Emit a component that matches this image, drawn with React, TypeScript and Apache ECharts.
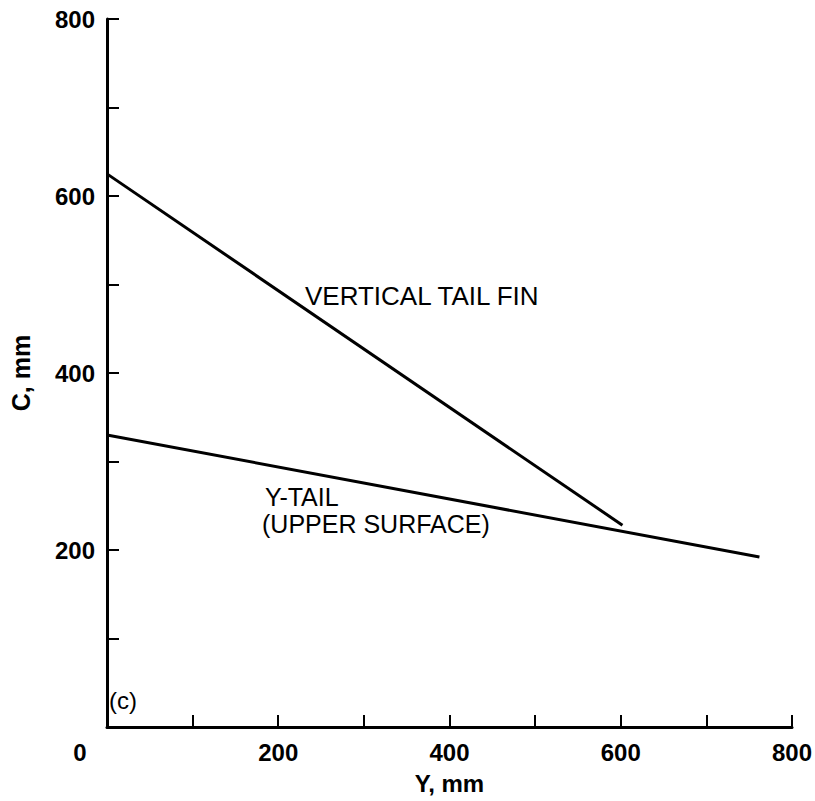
import React, { useEffect, useRef } from "react";
import * as echarts from "echarts";

const xTicks = [0, 100, 200, 300, 400, 500, 600, 700, 800];
const yTicks = [0, 100, 200, 300, 400, 500, 600, 700, 800];
const verticalTailFin: [number, number][] = [
  [0, 625],
  [602, 228],
];
const yTail: [number, number][] = [
  [0, 330],
  [762, 192],
];
const labelVTF = "VERTICAL TAIL FIN";
const labelYTail = "Y-TAIL";
const labelUpper = "(UPPER SURFACE)";
const labelPanel = "(c)";
const xName = "Y, mm";
const yName = "C, mm";

const FONT = "'Liberation Sans', Arial, Helvetica, sans-serif";

export default function App() {
  const ref = useRef<HTMLDivElement>(null);
  useEffect(() => {
    if (!ref.current) return;
    const chart = echarts.init(ref.current, null, { renderer: "svg" });
    const axisCommon = {
      type: "value" as const,
      interval: 100,
      splitLine: { show: false },
      axisLine: { show: true, lineStyle: { color: "#000", width: 3 } },
      axisTick: { show: true, inside: true, length: 12, lineStyle: { color: "#000", width: 2 } },
    };
    chart.setOption({
      animation: false,
      backgroundColor: "#fff",
      grid: { left: 99, right: 13, top: 19, bottom: 74, containLabel: false },
      xAxis: {
        ...axisCommon,
        min: xTicks[0],
        max: xTicks[xTicks.length - 1],
        name: xName,
        nameLocation: "middle",
        nameGap: 44,
        nameTextStyle: { color: "#000", fontSize: 24, fontWeight: "bold", fontFamily: FONT },
        axisLabel: {
          showMinLabel: true,
          showMaxLabel: true,
          margin: 13,
          color: "#000",
          fontSize: 24,
          fontWeight: "bold",
          fontFamily: FONT,
          formatter: (v: number) => (v === 0 ? "{z|0}" : v % 200 === 0 ? String(v) : ""),
          rich: {
            z: { color: "#000", fontSize: 24, fontWeight: "bold", fontFamily: FONT, padding: [0, 54, 0, 0] },
          },
        },
      },
      yAxis: {
        ...axisCommon,
        min: yTicks[0],
        max: yTicks[yTicks.length - 1],
        name: yName,
        nameLocation: "middle",
        nameGap: 74,
        nameRotate: 90,
        nameTextStyle: { color: "#000", fontSize: 25, fontWeight: "bold", fontFamily: FONT },
        axisLabel: {
          showMaxLabel: true,
          margin: 12,
          color: "#000",
          fontSize: 24,
          fontWeight: "bold",
          fontFamily: FONT,
          formatter: (v: number) => (v !== 0 && v % 200 === 0 ? String(v) : ""),
        },
      },
      series: [
        {
          type: "line",
          data: verticalTailFin,
          symbol: "none",
          lineStyle: { color: "#000", width: 3 },
        },
        {
          type: "line",
          data: yTail,
          symbol: "none",
          lineStyle: { color: "#000", width: 3 },
        },
      ],
      graphic: [
        {
          type: "text",
          left: 305,
          top: 283,
          style: { text: labelVTF, fill: "#000", fontSize: 26, fontFamily: FONT },
        },
        {
          type: "text",
          left: 265,
          top: 484,
          style: { text: labelYTail, fill: "#000", fontSize: 25, lineHeight: 26, fontFamily: FONT },
        },
        {
          type: "text",
          left: 262,
          top: 511,
          style: { text: labelUpper, fill: "#000", fontSize: 25, lineHeight: 26, fontFamily: FONT },
        },
        {
          type: "text",
          left: 109,
          top: 688,
          style: { text: labelPanel, fill: "#000", fontSize: 24, fontFamily: FONT },
        },
      ],
    });
    return () => chart.dispose();
  }, []);
  return <div ref={ref} style={{ width: 815, height: 801, position: "absolute", left: 0, top: 0 }} />;
}
